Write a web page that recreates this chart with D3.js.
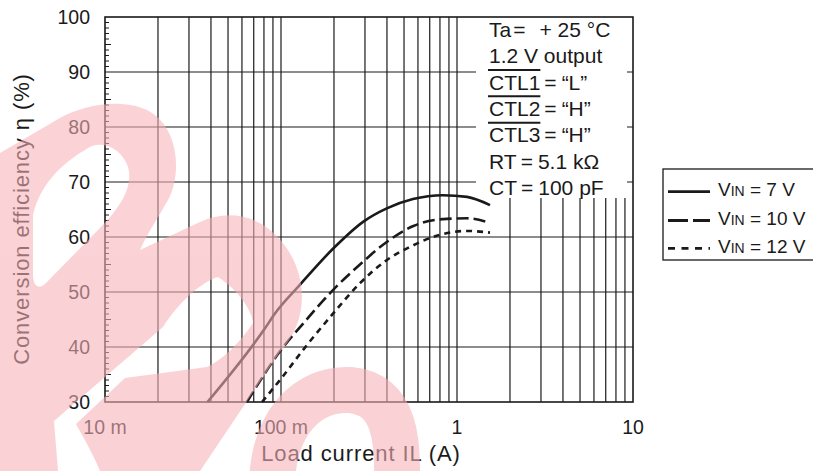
<!DOCTYPE html>
<html><head><meta charset="utf-8">
<script src="https://cdn.jsdelivr.net/npm/d3@7"></script>
<style>
body{margin:0;background:#fff}
svg{display:block}
text{font-family:"Liberation Sans",Arial,Helvetica,sans-serif;fill:#1a1a1a}
</style>
</head><body>
<svg id="chart" width="813" height="471"></svg>
<script>
// ---------- data ----------
const xTickValues = [0.01, 0.1, 1, 10];
const xTickLabels = ["10 m", "100 m", "1", "10"];
const yTickValues = [30, 40, 50, 60, 70, 80, 90, 100];
const xTitle = "Load current IL (A)";
const yTitle = "Conversion efficiency η (%)";

const vinValues = ["7", "10", "12"];
const current7  = [0.0382, 0.0811, 0.0924, 0.128, 0.198, 0.294, 0.399, 0.562, 0.832, 1.14, 1.54];
const eff7      = [30,     43.4,   46.1,   51.3,  57.9,  62.8,  65.2,  66.9,  67.6,  67.3, 65.8];
const current10 = [0.064, 0.103, 0.134, 0.198, 0.281, 0.399, 0.565, 0.874, 1.135, 1.54];
const eff10     = [30,    40.0,  44.3,  50.4,  55.0,  59.1,  62.0,  63.3,  63.4,  62.6];
const current12 = [0.078, 0.0987, 0.14, 0.198, 0.281, 0.399, 0.565, 0.8,  1.135, 1.54];
const eff12     = [30,    34.0,   40.3, 46.1,  51.6,  55.8,  58.5,  60.4, 61.1,  60.8];

// annotation: [label before "=", value after "="]
const annotationKeys   = ["Ta", "1.2 V output", "CTL1", "CTL2", "CTL3", "RT", "CT"];
const annotationValues = ["+ 25 °C", null, "“L”", "“H”", "“H”", "5.1 kΩ", "100 pF"];
const annotationOverline = [false, false, true, true, true, false, false];

// ---------- layout ----------
const svg = d3.select("#chart");
const L = 105, R = 633, T = 17, B = 402;
const x = d3.scaleLog().domain([0.01, 10]).range([L, R]);
const y = d3.scaleLinear().domain([30, 100]).range([B, T]);
const ink = "#1a1a1a";

// grid
const gGrid = svg.append("g").attr("stroke", ink).attr("stroke-width", 1.2);
const vGrid = [];
[0.01, 0.1, 1].forEach(d => { for (let k = 2; k <= 9; k++) vGrid.push(k * d); if (d > 0.01) vGrid.push(d); });
gGrid.selectAll("line.v").data(vGrid).join("line").attr("class", "v")
  .attr("x1", d => x(d)).attr("x2", d => x(d)).attr("y1", T).attr("y2", B);
gGrid.selectAll("line.h").data(yTickValues.slice(1, -1)).join("line").attr("class", "h")
  .attr("x1", L).attr("x2", R).attr("y1", d => y(d)).attr("y2", d => y(d));

// annotation box (white, hides grid)
svg.append("rect").attr("x", 476).attr("y", T).attr("width", 151).attr("height", 181).attr("fill", "#fff");

// curves
const series = [
  {I: current7, E: eff7, dash: null, ldash: null},
  {I: current10, E: eff10, dash: "12,5", ldash: "20,5"},
  {I: current12, E: eff12, dash: "6,5", ldash: "7,6.5"}
];
const line = d3.line().x(d => x(d[0])).y(d => y(d[1])).curve(d3.curveMonotoneX);
series.forEach(s => {
  svg.append("path").attr("d", line(s.I.map((v, i) => [v, s.E[i]])))
    .attr("fill", "none").attr("stroke", ink).attr("stroke-width", 2.6)
    .attr("stroke-dasharray", s.dash);
});

// annotation text
const gAnn = svg.append("g").attr("font-size", 21);
annotationKeys.forEach((k, i) => {
  const by = 36.7 + i * 26.4;
  const tx = gAnn.append("text").attr("x", 489).attr("y", by);
  const keySpan = tx.append("tspan").text(k);
  if (annotationValues[i] !== null) {
    tx.append("tspan").attr("dx", i === 0 ? 2 : 4).text("=");
    tx.append("tspan").attr("dx", i === 0 ? 14 : 5).text(annotationValues[i]);
  }
  if (annotationOverline[i]) {
    const w = keySpan.node().getComputedTextLength();
    gAnn.append("line").attr("x1", 488).attr("x2", 489 + w).attr("y1", by - 19.6).attr("y2", by - 19.6)
      .attr("stroke", ink).attr("stroke-width", 2);
  }
});

// frame
svg.append("rect").attr("x", L).attr("y", T).attr("width", R - L).attr("height", B - T)
  .attr("fill", "none").attr("stroke", ink).attr("stroke-width", 1.6);

// minor y ticks
const minor = d3.range(31, 100).filter(v => v % 10 !== 0);
svg.append("g").attr("stroke", ink).attr("stroke-width", 1)
  .selectAll("line").data(minor).join("line")
  .attr("x1", L).attr("x2", d => L + (d % 5 === 0 ? 6 : 4))
  .attr("y1", d => y(d)).attr("y2", d => y(d));

// tick labels
svg.append("g").attr("font-size", 19.5).attr("text-anchor", "end")
  .selectAll("text").data(yTickValues).join("text")
  .attr("x", 90).attr("y", d => y(d)).attr("dy", "0.36em").text(d => d);
svg.append("g").attr("font-size", 19.5).attr("text-anchor", "middle")
  .selectAll("text").data(xTickValues).join("text")
  .attr("x", d => x(d)).attr("y", 434).text((d, i) => xTickLabels[i]);

// axis titles
svg.append("text").attr("x", 361).attr("y", 461).attr("text-anchor", "middle")
  .attr("font-size", 22).attr("letter-spacing", "0.9px").text(xTitle);
svg.append("text").attr("transform", "translate(29,219) rotate(-90)").attr("text-anchor", "middle")
  .attr("font-size", 22).attr("letter-spacing", "0.9px").text(yTitle);

// legend
svg.append("rect").attr("x", 663).attr("y", 169).attr("width", 160).attr("height", 91)
  .attr("fill", "#fff").attr("stroke", ink).attr("stroke-width", 1.3);
const legY = [191.7, 220.5, 248.3];
series.forEach((s, i) => {
  svg.append("line").attr("x1", 668).attr("x2", 710).attr("y1", legY[i]).attr("y2", legY[i])
    .attr("stroke", ink).attr("stroke-width", 2.8).attr("stroke-dasharray", s.ldash);
  const t = svg.append("text").attr("x", 718).attr("y", legY[i] + 4.6).attr("font-size", 19);
  t.append("tspan").text("V");
  t.append("tspan").attr("font-size", 14).text("IN");
  t.append("tspan").text(" = " + vinValues[i] + " V");
});

// watermark (semi-transparent logo over the chart)
const wm = svg.append("g").attr("opacity", 0.58);
const wmColor = "rgb(248,178,185)";
wm.append("path").attr("fill", wmColor).attr("fill-rule", "evenodd").attr("d",
  "M 0,153 L 60,118 C 85,104 130,96 155,115 C 180,135 182,180 165,205 C 158,218 148,232 140,250 " +
  "L 200,222 C 230,208 265,215 288,250 C 310,285 305,325 280,352 L 200,471 L 0,471 Z " +
  "M 85,150 C 100,138 122,148 128,167 C 134,188 118,210 98,230 L 45,284 C 38,290 33,285 33,275 L 33,215 C 40,185 60,165 85,150 Z " +
  "M 163,327 C 180,300 205,280 218,277 C 238,290 252,310 253,323 C 238,345 222,360 207,367 L 125,378 L 76,424 C 86,442 95,458 100,471 L 58,471 L 54,421 Z");
wm.append("path").attr("fill", "none").attr("stroke", wmColor).attr("stroke-width", 46)
  .attr("d", "M 272,495 C 270,420 310,388 350,390 C 395,394 400,440 396,495");
</script>
</body></html>
